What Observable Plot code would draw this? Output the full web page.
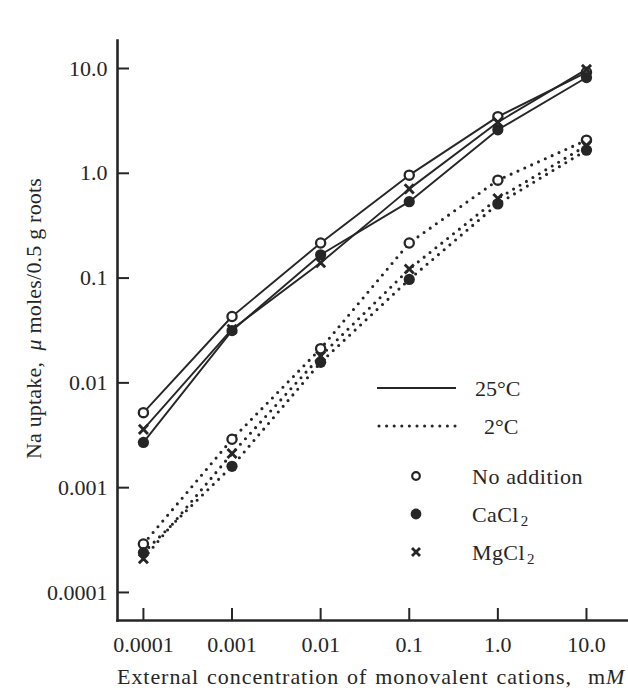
<!DOCTYPE html>
<html><head><meta charset="utf-8">
<script src="https://cdn.jsdelivr.net/npm/d3@7"></script>
<script src="https://cdn.jsdelivr.net/npm/@observablehq/plot@0.6"></script>
<style>
html,body{margin:0;padding:0;background:#fff;}
#wrap{position:relative;width:628px;height:691px;font-family:"Liberation Serif",serif;}
#overlay{position:absolute;left:0;top:0;pointer-events:none;}
</style></head><body><div id="wrap"></div>
<script>
// ---- data ----
const concentrations = [0.0001, 0.001, 0.01, 0.1, 1.0, 10.0];
const xTickLabels = ["0.0001", "0.001", "0.01", "0.1", "1.0", "10.0"];
const yTicks = [0.0001, 0.001, 0.01, 0.1, 1.0, 10.0];
const yTickLabels = ["0.0001", "0.001", "0.01", "0.1", "1.0", "10.0"];

const warmNoAddition = [0.0052, 0.043, 0.216, 0.96, 3.47, 9.2];
const warmCaCl2      = [0.0027, 0.0315, 0.167, 0.536, 2.6, 8.2];
const warmMgCl2      = [0.0036, 0.0325, 0.14, 0.71, 3.07, 9.8];
const coldNoAddition = [0.00029, 0.0029, 0.0212, 0.216, 0.86, 2.07];
const coldCaCl2      = [0.00024, 0.0016, 0.0157, 0.097, 0.51, 1.66];
const coldMgCl2      = [0.00021, 0.00212, 0.018, 0.122, 0.575, 1.84];

const temperatures = ["25°C", "2°C"];
const salts = ["No addition", "CaCl2", "MgCl2"];
const xTitle = "External concentration of monovalent cations, mM";
const yTitle = "Na uptake, \u03bc moles/0.5 g roots";

// ---- build table ----
const seriesDefs = [
  {temp: temperatures[0], salt: salts[0], values: warmNoAddition},
  {temp: temperatures[0], salt: salts[1], values: warmCaCl2},
  {temp: temperatures[0], salt: salts[2], values: warmMgCl2},
  {temp: temperatures[1], salt: salts[0], values: coldNoAddition},
  {temp: temperatures[1], salt: salts[1], values: coldCaCl2},
  {temp: temperatures[1], salt: salts[2], values: coldMgCl2}
];
const rows = seriesDefs.flatMap(s => s.values.map((v, i) => ({x: concentrations[i], y: v, temp: s.temp, salt: s.salt})));
const warm = rows.filter(d => d.temp === temperatures[0]);
const cold = rows.filter(d => d.temp === temperatures[1]);

const ink = "#262626";
const font = "'Liberation Serif', serif";
const xLab = new Map(concentrations.map((c, i) => [c, xTickLabels[i]]));
const yLab = new Map(yTicks.map((c, i) => [c, yTickLabels[i]]));

const W = 628, H = 691, mL = 117, mR = 0, mT = 40, mB = 71;
const innerW = W - mL - mR, innerH = H - mT - mB;

const chart = Plot.plot({
  width: W, height: H,
  marginLeft: mL, marginRight: mR, marginTop: mT, marginBottom: mB,
  style: {fontFamily: font, background: "#fff", color: ink},
  x: {type: "log", domain: [5.1e-5, 29.8]},
  y: {type: "log", domain: [5.4e-5, 18.5]},
  marks: [
    Plot.line(warm, {x: "x", y: "y", z: "salt", stroke: ink, strokeWidth: 1.9}),
    Plot.line(cold, {x: "x", y: "y", z: "salt", stroke: ink, strokeWidth: 3.1, strokeDasharray: "0 7.5", strokeLinecap: "round"}),
    Plot.dot(rows.filter(d => d.salt === salts[0]), {x: "x", y: "y", r: 4.6, stroke: ink, strokeWidth: 2.3, fill: "white"}),
    Plot.dot(rows.filter(d => d.salt === salts[1]), {x: "x", y: "y", r: 5.6, fill: ink, stroke: "none"}),
    Plot.dot(rows.filter(d => d.salt === salts[2]), {x: "x", y: "y", r: 4.2, symbol: "times", stroke: ink, strokeWidth: 2.9}),
    Plot.frame({anchor: "left", stroke: ink, strokeWidth: 2.6}),
    Plot.frame({anchor: "bottom", stroke: ink, strokeWidth: 2.6}),
    Plot.tickX(concentrations, {x: d => d, insetTop: innerH - 12, stroke: ink, strokeWidth: 2}),
    Plot.tickY(yTicks, {y: d => d, insetRight: innerW - 12, stroke: ink, strokeWidth: 2}),
    Plot.axisX(concentrations, {anchor: "bottom", tickSize: 0, tickPadding: 16, tickFormat: d => xLab.get(d), fontSize: 22, fill: ink, label: null}),
    Plot.axisY(yTicks, {anchor: "left", tickSize: 0, tickPadding: 10, tickFormat: d => yLab.get(d), fontSize: 22, fill: ink, label: null})
  ]
});

const wrap = document.getElementById("wrap");
wrap.appendChild(chart);

// ---- overlay: axis titles and legend ----
const ov = d3.select(wrap).append("svg").attr("id", "overlay").attr("width", W).attr("height", H)
  .attr("font-family", font).attr("fill", ink);

ov.append("text")
  .attr("x", 117).attr("y", 684)
  .attr("font-size", 22).attr("letter-spacing", 0.95).attr("word-spacing", 1.5)
  .html("External concentration of monovalent cations,&#160; m<tspan font-style='italic'>M</tspan>");

ov.append("text")
  .attr("transform", "translate(41,318.5) rotate(-90)")
  .attr("text-anchor", "middle")
  .attr("font-size", 22).attr("letter-spacing", 0.2)
  .html("Na uptake,&#160; <tspan font-style='italic'>\u03bc</tspan> moles/0.5 g roots");

ov.append("line").attr("x1", 377).attr("x2", 456).attr("y1", 388).attr("y2", 388).attr("stroke", ink).attr("stroke-width", 1.9);
ov.append("line").attr("x1", 379).attr("x2", 456).attr("y1", 426).attr("y2", 426).attr("stroke", ink).attr("stroke-width", 3.1).attr("stroke-dasharray", "0 7.6").attr("stroke-linecap", "round");
const legText = [
  {label: temperatures[0], x: 475, y: 388},
  {label: temperatures[1], x: 484, y: 426}
];
legText.forEach(t => ov.append("text").attr("x", t.x).attr("y", t.y).attr("dy", "0.35em").attr("font-size", 22).text(t.label));
const symY = [476, 514, 552];
ov.append("circle").attr("cx", 416).attr("cy", symY[0]).attr("r", 3.8).attr("fill", "white").attr("stroke", ink).attr("stroke-width", 2.2);
ov.append("circle").attr("cx", 416).attr("cy", symY[1]).attr("r", 5.4).attr("fill", ink);
ov.append("path").attr("d", `M412,${symY[2]-4}L420,${symY[2]+4}M420,${symY[2]-4}L412,${symY[2]+4}`).attr("stroke", ink).attr("stroke-width", 2.8);
const saltHtml = ["No addition", "CaCl<tspan font-size='15' dx='2' dy='4'>2</tspan>", "MgCl<tspan font-size='15' dx='2' dy='4'>2</tspan>"];
saltHtml.forEach((h, i) => {
  ov.append("text").attr("x", 472).attr("y", symY[i]).attr("dy", "0.35em").attr("font-size", 22)
    .attr("letter-spacing", i === 0 ? 0.6 : 0.4).html(h);
});
</script></body></html>
